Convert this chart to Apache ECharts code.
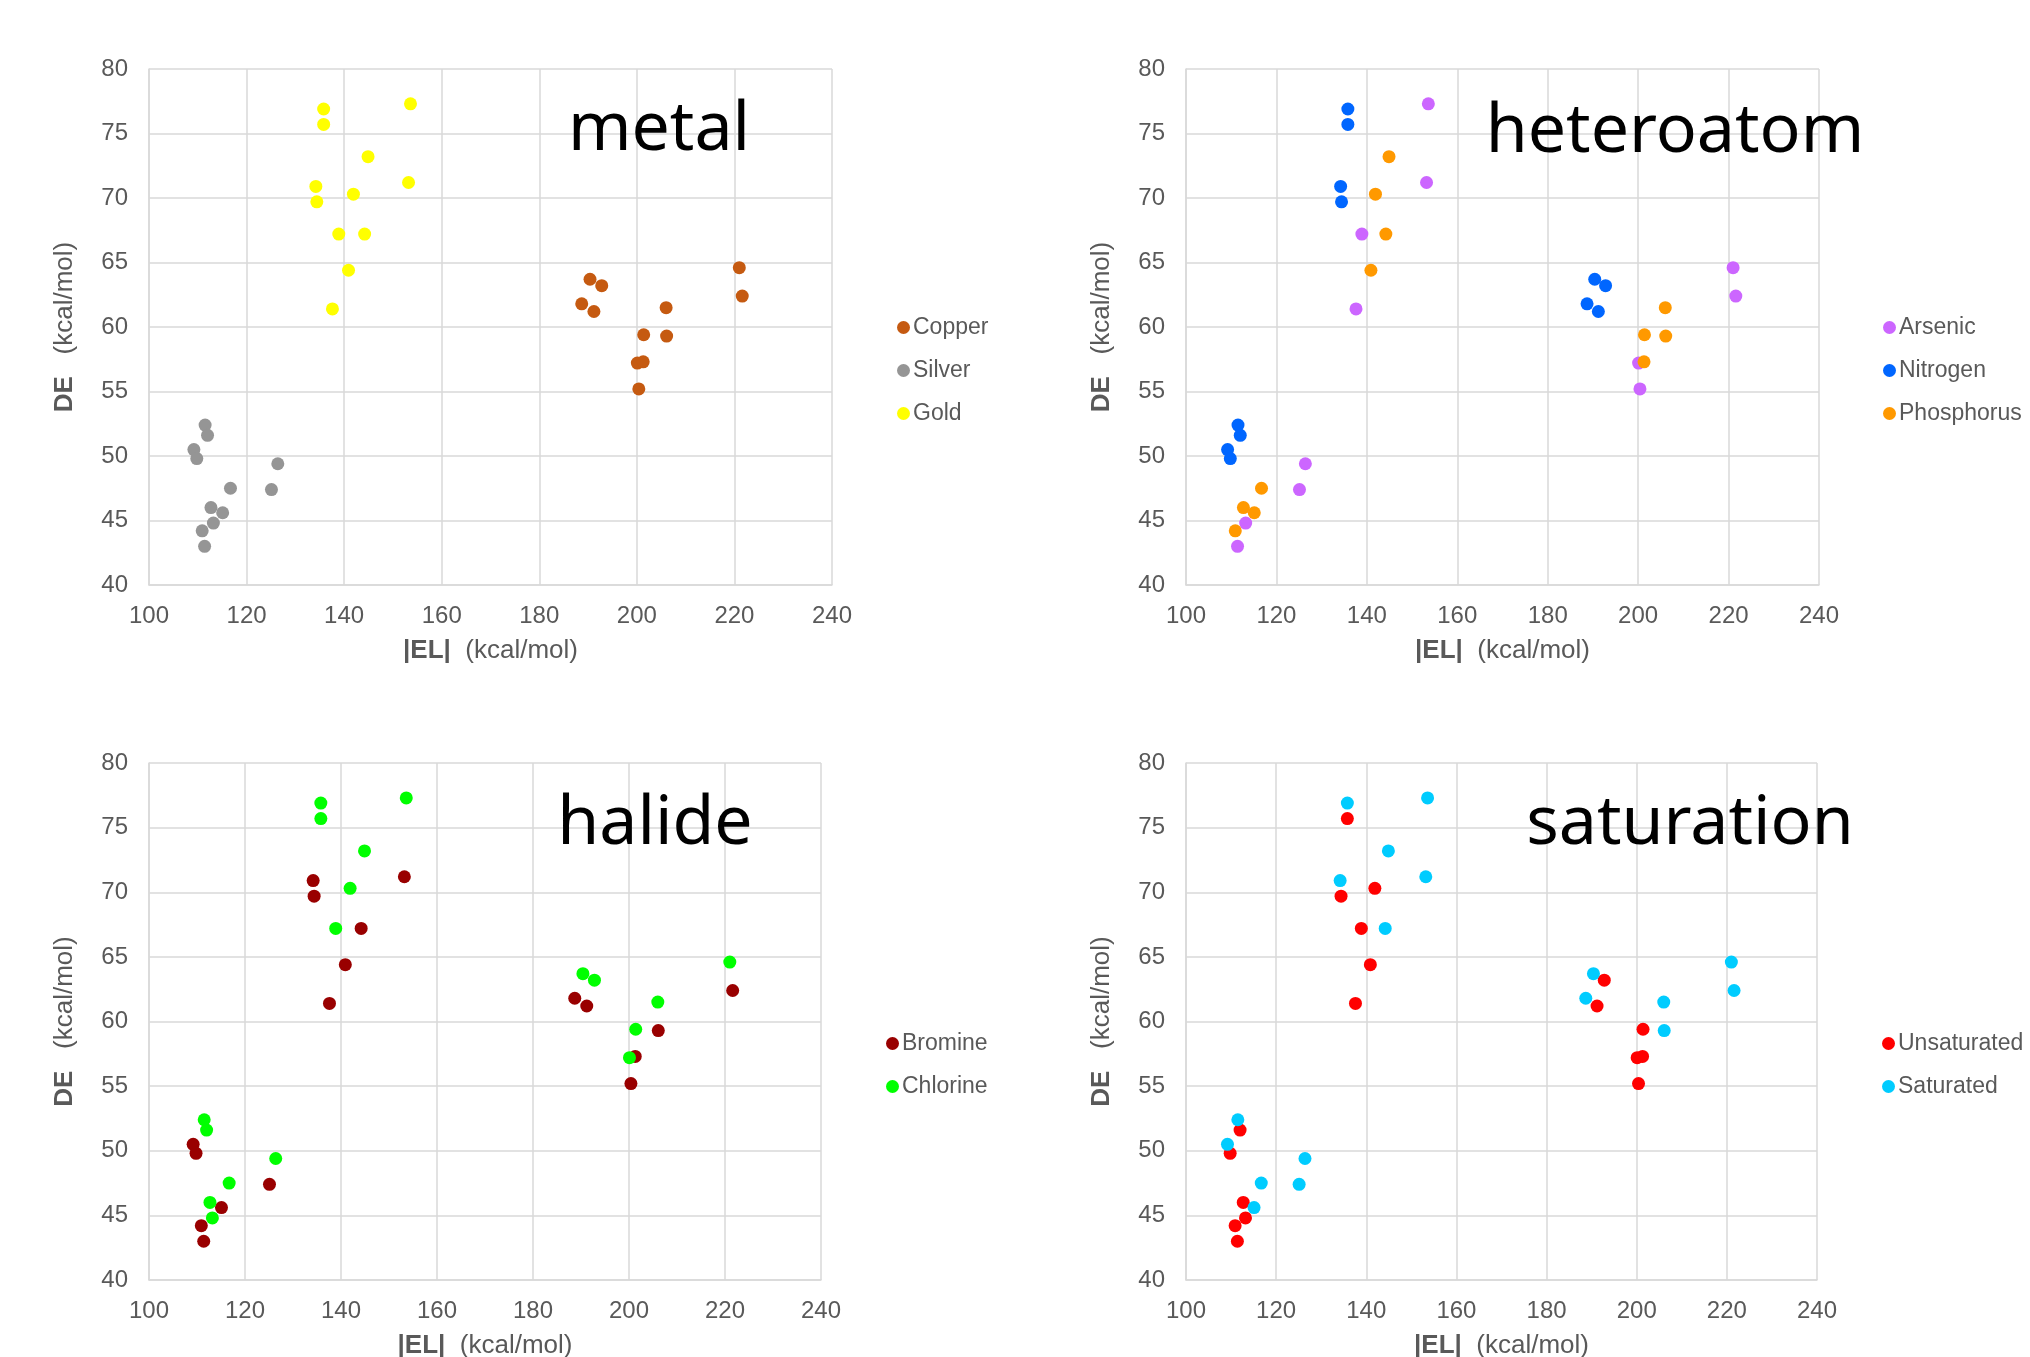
<!DOCTYPE html>
<html><head><meta charset="utf-8">
<script src="https://cdn.jsdelivr.net/npm/echarts@6/dist/echarts.min.js"></script>
<style>html,body{margin:0;padding:0;background:#fff}#c{width:2030px;height:1357px}</style>
</head><body><div id="c"></div>
<script>
// |EL| (kcal/mol) for each of the 36 structures
const elValues = [
  135.8, 135.8, 153.6, 144.9, 134.2, 134.4, 141.9, 153.2, 138.9, 144.2, 140.9, 137.6,
  111.5, 112.0, 109.2, 109.8, 126.4, 116.7, 125.1, 112.7, 115.1, 113.2, 110.9, 111.4,
  190.4, 192.8, 188.7, 191.2, 221.0, 221.6, 206.0, 201.4, 206.1, 200.1, 201.3, 200.4
];
// DE (kcal/mol) for each structure
const deValues = [
  76.9, 75.7, 77.3, 73.2, 70.9, 69.7, 70.3, 71.2, 67.2, 67.2, 64.4, 61.4,
  52.4, 51.6, 50.5, 49.8, 49.4, 47.5, 47.4, 46.0, 45.6, 44.8, 44.2, 43.0,
  63.7, 63.2, 61.8, 61.2, 64.6, 62.4, 61.5, 59.4, 59.3, 57.2, 57.3, 55.2
];
const G='Gold', S='Silver', C='Copper';
const metalGroup = [G,G,G,G,G,G,G,G,G,G,G,G, S,S,S,S,S,S,S,S,S,S,S,S, C,C,C,C,C,C,C,C,C,C,C,C];
const N='Nitrogen', A='Arsenic', P='Phosphorus';
const heteroGroup = [N,N,A,P,N,N,P,A,A,P,P,A, N,N,N,N,A,P,A,P,P,A,P,A, N,N,N,N,A,A,P,P,P,A,P,A];
const Cl='Chlorine', Br='Bromine';
const halideGroup = [Cl,Cl,Cl,Cl,Br,Br,Cl,Br,Cl,Br,Br,Br, Cl,Cl,Br,Br,Cl,Cl,Br,Cl,Br,Cl,Br,Br, Cl,Cl,Br,Br,Cl,Br,Cl,Cl,Br,Cl,Br,Br];
const Sa='Saturated', Un='Unsaturated';
const saturationGroup = [Sa,Un,Sa,Sa,Sa,Un,Un,Sa,Un,Sa,Un,Un, Sa,Un,Sa,Un,Sa,Sa,Sa,Un,Sa,Un,Un,Un, Sa,Un,Sa,Un,Sa,Sa,Sa,Un,Sa,Un,Un,Un];

const panelTitles = ['metal', 'heteroatom', 'halide', 'saturation'];
const seriesNames = [
  ['Copper', 'Silver', 'Gold'],
  ['Arsenic', 'Nitrogen', 'Phosphorus'],
  ['Bromine', 'Chlorine'],
  ['Unsaturated', 'Saturated']
];
const groups = [metalGroup, heteroGroup, halideGroup, saturationGroup];
const xRange = [100, 240, 20];
const yRange = [40, 80, 5];

// styles / layout
const colorMap = {
  Copper:'#C55A11', Silver:'#959595', Gold:'#FFFF00',
  Arsenic:'#CC66FF', Nitrogen:'#0066FF', Phosphorus:'#FF9900',
  Bromine:'#990000', Chlorine:'#00FF00',
  Unsaturated:'#FF0000', Saturated:'#00CCFF'
};
const gridLayout = [
  {left:149, top:69, width:683, height:516},
  {left:1186, top:69, width:633, height:516},
  {left:149, top:763, width:672, height:517},
  {left:1186, top:763, width:631, height:517}
];
const legendPos = [{left:892, top:311}, {left:1878, top:311}, {left:881, top:1027}, {left:1877, top:1027}];
const titlePos = [{x:659, y:131}, {x:1675, y:133}, {x:655, y:825}, {x:1690, y:825}];

const FONT = '"Liberation Sans", Arial, sans-serif';
const GRAY = '#595959';
const LINE = '#D9D9D9';
const nameStyle = {fontFamily:FONT, fontSize:26, color:GRAY, rich:{b:{fontWeight:'bold', fontFamily:FONT, fontSize:26, color:GRAY}}};

const option = {
  animation:false,
  backgroundColor:'#fff',
  grid: gridLayout.map(g => Object.assign({outerBoundsMode:'none', containLabel:false}, g)),
  xAxis: gridLayout.map((g,i) => ({
    gridIndex:i, type:'value', min:xRange[0], max:xRange[1], interval:xRange[2],
    name:'{b||EL|}  (kcal/mol)', nameLocation:'middle', nameGap:53, nameMoveOverlap:false,
    nameTextStyle:nameStyle,
    axisLine:{show:true, lineStyle:{color:LINE, width:1.5}},
    axisTick:{show:false},
    axisLabel:{fontFamily:FONT, fontSize:24, color:GRAY, margin:19},
    splitLine:{show:true, lineStyle:{color:LINE, width:1.5}}
  })),
  yAxis: gridLayout.map((g,i) => ({
    gridIndex:i, type:'value', min:yRange[0], max:yRange[1], interval:yRange[2],
    name:'{b|DE}   (kcal/mol)', nameLocation:'middle', nameGap:71, nameMoveOverlap:false,
    nameTextStyle:nameStyle,
    axisLine:{show:true, lineStyle:{color:LINE, width:1.5}},
    axisTick:{show:false},
    axisLabel:{fontFamily:FONT, fontSize:24, color:GRAY, margin:21},
    splitLine:{show:true, lineStyle:{color:LINE, width:1.5}}
  })),
  legend: seriesNames.map((names,i) => ({
    orient:'vertical', left:legendPos[i].left, top:legendPos[i].top,
    icon:'circle', itemWidth:13, itemHeight:13, itemGap:20,
    textStyle:{fontFamily:FONT, fontSize:23, color:GRAY, padding:[0,0,0,-2]},
    data:names
  })),
  graphic: panelTitles.map((t,i) => ({
    type:'text', x:titlePos[i].x, y:titlePos[i].y, z:100,
    style:{text:t, fontFamily:'"Noto Sans", sans-serif', fontSize:68, fill:'#000', align:'center', verticalAlign:'middle'}
  })),
  series: []
};

seriesNames.forEach((names, p) => {
  names.forEach(name => {
    const data = [];
    groups[p].forEach((g, i) => { if (g === name) data.push([elValues[i], deValues[i]]); });
    option.series.push({
      type:'scatter', name:name, xAxisIndex:p, yAxisIndex:p,
      symbol:'circle', symbolSize:13,
      itemStyle:{color:colorMap[name], opacity:1},
      data:data
    });
  });
});

const chart = echarts.init(document.getElementById('c'), null, {renderer:'canvas'});
chart.setOption(option);
</script>
</body></html>
